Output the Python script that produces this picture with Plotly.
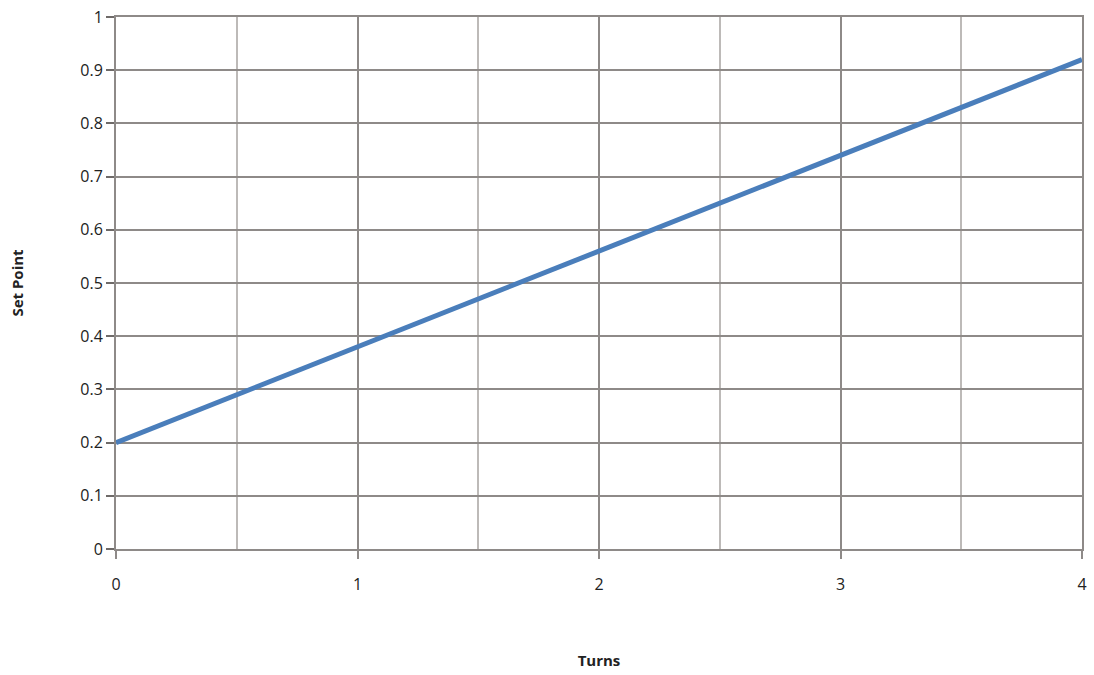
import plotly.graph_objects as go

turns = [0, 1, 2, 3, 4]
set_point = [0.2, 0.38, 0.56, 0.74, 0.92]

x_ticks = [0, 1, 2, 3, 4]
y_ticks = [0, 0.1, 0.2, 0.3, 0.4, 0.5, 0.6, 0.7, 0.8, 0.9, 1]
y_ticklabels = ["0", "0.1", "0.2", "0.3", "0.4", "0.5", "0.6", "0.7", "0.8", "0.9", "1"]

major = "#8e8a88"
minor = "#bdbab8"
font = "Open Sans, Liberation Sans, sans-serif"
tick_font = dict(family=font, size=16, color="#222222")

fig = go.Figure()
fig.add_trace(go.Scatter(
    x=turns, y=set_point, mode="lines",
    line=dict(color="#4a7ebb", width=5),
    showlegend=False,
))

fig.update_layout(
    width=1094, height=675,
    margin=dict(l=116, r=12, t=17, b=126),
    paper_bgcolor="white", plot_bgcolor="white",
    font=dict(family=font, size=15, color="#222222"),
    xaxis=dict(
        range=[0, 4], tickvals=x_ticks, ticktext=[str(v) for v in x_ticks],
        tickfont=tick_font, ticklabelstandoff=12,
        showgrid=True, gridcolor=major, gridwidth=2,
        minor=dict(dtick=0.5, showgrid=True, gridcolor=minor, gridwidth=2, ticks=""),
        showline=True, linecolor=major, linewidth=2, mirror=True,
        ticks="outside", ticklen=8, tickwidth=2, tickcolor=major,
        zeroline=False, automargin=False,
        title=dict(text="<b>Turns</b>", font=dict(size=15, color="#222222"), standoff=61),
    ),
    yaxis=dict(
        range=[0, 1], tickvals=y_ticks, ticktext=y_ticklabels,
        tickfont=tick_font,
        showgrid=True, gridcolor=major, gridwidth=2,
        showline=True, linecolor=major, linewidth=2, mirror=True,
        ticks="outside", ticklen=8, tickwidth=2, tickcolor="#6e6a68",
        zeroline=False, automargin=False,
        title=dict(text="<b>Set Point</b>", font=dict(size=15, color="#222222"), standoff=53),
    ),
)

fig.write_html(
    "out.html",
    config={"displayModeBar": False, "displaylogo": False},
    post_script="document.body.style.margin='0';document.body.style.overflow='hidden';",
)
